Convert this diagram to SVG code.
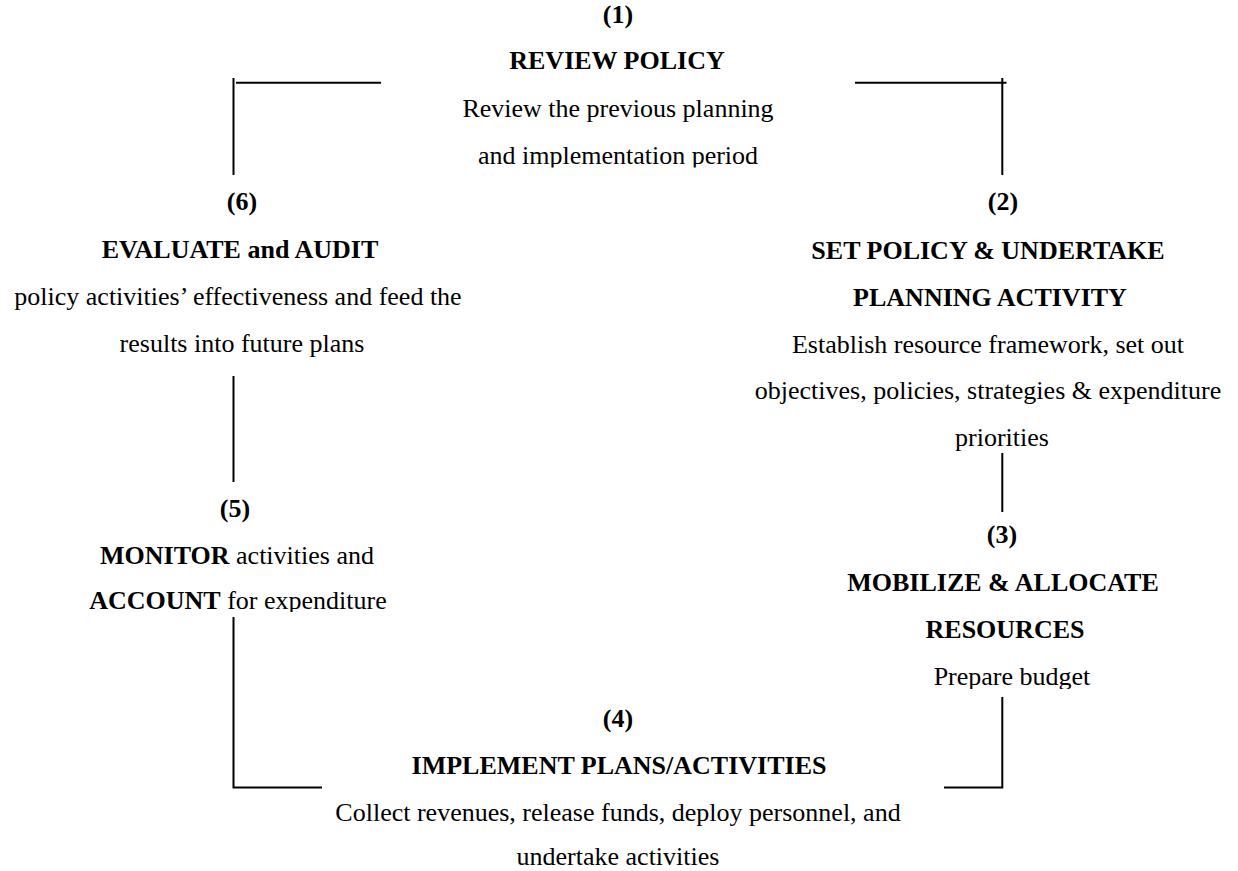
<svg xmlns="http://www.w3.org/2000/svg" width="1238" height="871" viewBox="0 0 1238 871">
<style>
text{font-family:"Liberation Serif","Times New Roman",serif;font-size:26px;fill:#000;text-anchor:middle}
.b{font-weight:bold}
.c{fill:none;stroke:#000;stroke-width:2}
</style>
<defs>
<clipPath id="clip1"><rect x="0" y="0" width="1238" height="167.5"/></clipPath>
<clipPath id="clip5"><rect x="0" y="0" width="1238" height="612"/></clipPath>
<clipPath id="clip3"><rect x="0" y="0" width="1238" height="689"/></clipPath>
</defs>
<rect width="1238" height="871" fill="#fff"/>
<g id="connectors">
<path class="c" d="M233.5 78 V175"/>
<path class="c" d="M236 82.7 H381"/>
<path class="c" d="M855 82.7 H1006.5"/>
<path class="c" d="M1002.3 78 V175"/>
<path class="c" d="M233.5 376 V482"/>
<path class="c" d="M1002.3 453 V512"/>
<path class="c" d="M233.5 617 V787.5 H322"/>
<path class="c" d="M1002.3 697 V787.5 H944"/>
</g>
<g id="node1">
<text class="b" x="618" y="23">(1)</text>
<text class="b" x="617" y="69">REVIEW POLICY</text>
<text x="618" y="117">Review the previous planning</text>
<text x="618" y="164" clip-path="url(#clip1)">and implementation period</text>
</g>
<g id="node2">
<text class="b" x="1003" y="210">(2)</text>
<text class="b" x="988" y="258.5">SET POLICY &amp; UNDERTAKE</text>
<text class="b" x="990" y="305.5">PLANNING ACTIVITY</text>
<text x="988" y="353">Establish resource framework, set out</text>
<text x="988" y="399">objectives, policies, strategies &amp; expenditure</text>
<text x="1002" y="445.5">priorities</text>
</g>
<g id="node3">
<text class="b" x="1002" y="543">(3)</text>
<text class="b" x="1003" y="591">MOBILIZE &amp; ALLOCATE</text>
<text class="b" x="1005" y="638">RESOURCES</text>
<text x="1012" y="685" clip-path="url(#clip3)">Prepare budget</text>
</g>
<g id="node4">
<text class="b" x="618" y="727">(4)</text>
<text class="b" x="619" y="774">IMPLEMENT PLANS/ACTIVITIES</text>
<text x="618" y="821">Collect revenues, release funds, deploy personnel, and</text>
<text x="618" y="865">undertake activities</text>
</g>
<g id="node5">
<text class="b" x="235" y="517">(5)</text>
<text x="237" y="563.5"><tspan class="b">MONITOR</tspan> activities and</text>
<text x="238" y="608.5" clip-path="url(#clip5)"><tspan class="b">ACCOUNT</tspan> for expenditure</text>
</g>
<g id="node6">
<text class="b" x="242" y="210">(6)</text>
<text class="b" x="240" y="258">EVALUATE and AUDIT</text>
<text x="238" y="305">policy activities’ effectiveness and feed the</text>
<text x="242" y="352">results into future plans</text>
</g>
</svg>
